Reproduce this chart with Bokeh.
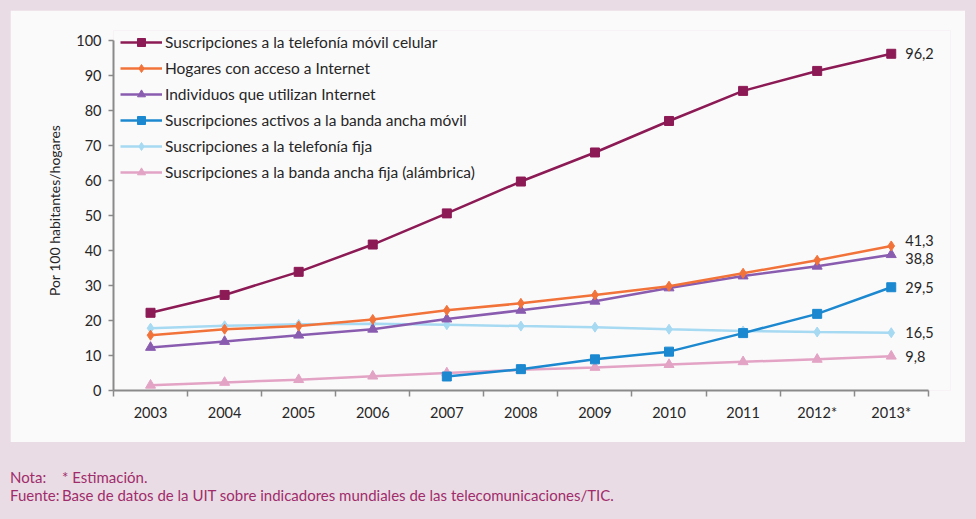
from bokeh.plotting import figure
from bokeh.models import Range1d, FixedTicker, Legend, LegendItem, ColumnDataSource, Div
from bokeh.layouts import column
from bokeh.embed import file_html
from bokeh.resources import INLINE
from bokeh.core.properties import value

# ---------------- data ----------------
years = ["2003", "2004", "2005", "2006", "2007", "2008", "2009", "2010", "2011", "2012*", "2013*"]
movil_celular = [22.2, 27.3, 33.9, 41.7, 50.6, 59.7, 68.0, 77.0, 85.6, 91.3, 96.2]
hogares_internet = [15.8, 17.5, 18.4, 20.3, 22.9, 24.9, 27.3, 29.8, 33.5, 37.2, 41.3]
individuos_internet = [12.3, 14.0, 15.8, 17.5, 20.4, 22.9, 25.5, 29.3, 32.7, 35.5, 38.8]
banda_ancha_movil = [None, None, None, None, 4.0, 6.1, 8.9, 11.1, 16.4, 21.9, 29.5]
telefonia_fija = [17.8, 18.5, 18.9, 19.1, 18.8, 18.4, 18.1, 17.5, 17.0, 16.7, 16.5]
banda_ancha_fija = [1.5, 2.3, 3.1, 4.1, 5.0, 5.9, 6.6, 7.4, 8.2, 8.9, 9.8]
y_ticks = [0, 10, 20, 30, 40, 50, 60, 70, 80, 90, 100]

names = [
    "Suscripciones a la telefonía móvil celular",
    "Hogares con acceso a Internet",
    "Individuos que utilizan Internet",
    "Suscripciones activos a la banda ancha móvil",
    "Suscripciones a la telefonía fija",
    "Suscripciones a la banda ancha fija (alámbrica)",
]
series = [movil_celular, hogares_internet, individuos_internet,
          banda_ancha_movil, telefonia_fija, banda_ancha_fija]
colors = ["#8c1a55", "#f2733a", "#8a5cb0", "#1b88cf", "#a6d9f2", "#e2a3c4"]
markers = ["square", "diamond", "triangle", "square", "diamond", "triangle"]
sizes = [9, 10, 10, 9, 10, 10]
label_shift = [0, -5, 4, 0, 0, 0]   # pixel nudges for end labels

FONT = "Lato"
TXT = "#262626"

xs = [i + 1 for i in range(len(years))]

p = figure(width=955, height=432, output_backend="svg", toolbar_location=None,
           x_range=Range1d(0.5, len(years) + 0.8), y_range=Range1d(0, 102.85),
           min_border_left=103, min_border_right=15, min_border_top=20, min_border_bottom=52,
           background_fill_color="#fbfafb", border_fill_color="#fbfafb",
           outline_line_color=None)
p.margin = (10, 0, 0, 10)
p.xgrid.visible = False
p.ygrid.visible = False

# x axis: labels at category centres, ticks at boundaries
xa = p.xaxis[0]
xa.bounds = (0.5, len(years) + 0.5)
xa.ticker = FixedTicker(ticks=xs, minor_ticks=[i + 0.5 for i in range(len(years) + 1)])
xa.major_label_overrides = {x: y for x, y in zip(xs, years)}
xa.major_tick_line_color = None
xa.major_tick_out = 0
xa.major_tick_in = 0
xa.minor_tick_out = 6
xa.minor_tick_in = 0
xa.minor_tick_line_color = "#8a8a8a"
xa.minor_tick_line_width = 1.5
xa.major_label_standoff = 7

ya = p.yaxis[0]
ya.bounds = (0, 100)
ya.ticker = FixedTicker(ticks=y_ticks)
ya.major_tick_out = 5
ya.major_tick_in = 0
ya.minor_tick_line_color = None
ya.major_tick_line_color = "#8a8a8a"
ya.major_tick_line_width = 1.5
ya.major_label_standoff = 7
ya.axis_label = "Por 100 habitantes/hogares"
ya.axis_label_standoff = 10
ya.axis_label_text_font_style = "normal"
ya.axis_label_text_font = FONT
ya.axis_label_text_font_size = "14px"
ya.axis_label_text_color = TXT

for ax in (xa, ya):
    ax.axis_line_color = "#8a8a8a"
    ax.axis_line_width = 2
    ax.major_label_text_font = FONT
    ax.major_label_text_font_size = "14.5px"
    ax.major_label_text_color = TXT

renderers = {}
draw_order = [5, 4, 3, 2, 1, 0]
for k in draw_order:
    pts = [(x, v) for x, v in zip(xs, series[k]) if v is not None]
    src = ColumnDataSource(dict(x=[a for a, _ in pts], y=[b for _, b in pts]))
    ln = p.line("x", "y", source=src, line_color=colors[k], line_width=2.5)
    sc = p.scatter("x", "y", source=src, marker=markers[k], size=sizes[k],
                   fill_color=colors[k], line_color=colors[k])
    renderers[k] = [ln, sc]

legend = Legend(items=[LegendItem(label=names[k], renderers=renderers[k]) for k in range(6)],
                location=(7, 208), glyph_width=42, glyph_height=20, label_height=20,
                spacing=6, padding=0, margin=0, label_standoff=3,
                label_text_font=FONT, label_text_font_size="15.5px", label_text_color=TXT,
                border_line_color=None, background_fill_alpha=0)
p.add_layout(legend)

lab = ColumnDataSource(dict(
    x=[xs[-1]] * 6,
    y=[s[-1] for s in series],
    t=[f"{s[-1]:.1f}".replace(".", ",") for s in series],
    dy=label_shift,
))
p.text("x", "y", text="t", source=lab, x_offset=14, y_offset="dy",
       text_font=value(FONT), text_font_size="14.5px", text_color=TXT,
       text_baseline="middle", text_align="left")

notes = Div(
    text=('<div style="line-height:18px">'
          '<span style="display:inline-block;width:52px">Nota:</span>* Estimación.<br>'
          '<span style="display:inline-block;width:52px">Fuente:</span>'
          'Base de datos de la UIT sobre indicadores mundiales de las telecomunicaciones/TIC.</div>'),
    styles={"color": "#a02c6c", "font-family": "Lato", "font-size": "15px"},
    width=900, margin=(26, 0, 0, 10))

layout = column(p, notes, spacing=0)

html = file_html(layout, INLINE)
html = html.replace("<head>", "<head><style>html,body{background:#eadce4;}</style>", 1)
open("out.html", "w").write(html)
